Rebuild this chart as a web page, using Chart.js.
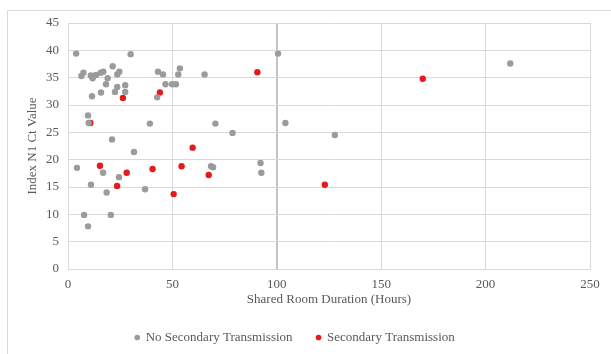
<!DOCTYPE html>
<html>
<head>
<meta charset="utf-8">
<script src="https://cdn.jsdelivr.net/npm/chart.js@4/dist/chart.umd.min.js"></script>
<style>
  html, body { margin: 0; padding: 0; background: #fff; }
  #wrap { width: 611px; height: 354px; position: relative; }
</style>
</head>
<body>
<div id="wrap"><canvas id="c" width="611" height="354"></canvas></div>
<script>
// Shared room duration (hours) and Index N1 Ct values
const noTransX = [3.9, 30.0, 7.4, 6.4, 10.9, 12.1, 11.8, 13.4, 15.7, 16.9, 21.4, 24.6, 23.6, 19.0, 18.2, 27.4, 23.6, 22.5, 27.4, 15.8, 11.5,
  43.1, 45.5, 53.6, 52.8, 46.7, 49.9, 51.7, 42.7,
  65.4, 100.6, 70.6, 104.1, 78.8, 127.8, 69.5, 68.5, 92.2, 92.6, 211.8,
  9.6, 9.9, 21.1, 31.6, 4.3, 16.8, 24.4, 11.0, 39.2, 36.9, 18.5, 7.7, 20.5, 9.6];
const noTransY = [39.4, 39.3, 35.9, 35.3, 35.4, 35.2, 34.9, 35.5, 35.9, 36.1, 37.1, 36.1, 35.6, 34.9, 33.8, 33.6, 33.3, 32.4, 32.4, 32.3, 31.6,
  36.1, 35.6, 36.7, 35.6, 33.8, 33.8, 33.8, 31.4,
  35.6, 39.4, 26.6, 26.7, 24.9, 24.5, 18.6, 18.8, 19.4, 17.6, 37.6,
  28.1, 26.7, 23.7, 21.4, 18.5, 17.6, 16.8, 15.4, 26.6, 14.6, 14.0, 9.9, 9.9, 7.8];
const transX = [26.3, 44.0, 10.7, 15.3, 28.1, 23.5, 40.5, 54.4, 59.7, 50.6, 67.4, 90.7, 123.0, 169.9];
const transY = [31.3, 32.3, 26.7, 18.9, 17.6, 15.2, 18.3, 18.8, 22.2, 13.7, 17.2, 36.0, 15.4, 34.8];
const seriesNames = ['No Secondary Transmission', 'Secondary Transmission'];
const xTitle = 'Shared Room Duration (Hours)';
const yTitle = 'Index N1 Ct Value';

const toPts = (xs, ys) => xs.map((x, i) => ({ x: x, y: ys[i] }));
const FONT = { family: '"Liberation Serif", "Times New Roman", serif', size: 13 };
const TXT = '#595959';

const frame = {
  id: 'frame',
  beforeDraw(chart) {
    const ctx = chart.ctx;
    ctx.save();
    ctx.strokeStyle = '#d9d9d9';
    ctx.lineWidth = 1;
    ctx.strokeRect(7.5, 10.5, 620, 360);
    ctx.restore();
  }
};

new Chart(document.getElementById('c'), {
  type: 'scatter',
  data: {
    datasets: [
      { label: seriesNames[0], data: toPts(noTransX, noTransY), backgroundColor: '#9b9b9b', borderColor: '#9b9b9b', pointRadius: 3.2, pointHoverRadius: 3.2, borderWidth: 0 },
      { label: seriesNames[1], data: toPts(transX, transY), backgroundColor: '#e8191c', borderColor: '#e8191c', pointRadius: 3.2, pointHoverRadius: 3.2, borderWidth: 0 }
    ]
  },
  options: {
    responsive: false,
    animation: false,
    devicePixelRatio: 1,
    layout: { padding: { left: 0, top: 23, right: 21, bottom: 0 } },
    plugins: {
      tooltip: { enabled: false },
      legend: {
        position: 'bottom',
        labels: { usePointStyle: true, pointStyle: 'circle', boxWidth: 4, boxHeight: 4, padding: 24, color: TXT, font: FONT }
      }
    },
    scales: {
      x: {
        type: 'linear', min: 0, max: 250,
        ticks: { stepSize: 50, color: TXT, font: FONT, padding: 8 },
        grid: { color: (c) => (c.tick && c.tick.value === 100) ? '#c4c4c4' : '#d9d9d9', lineWidth: (c) => (c.tick && c.tick.value === 100) ? 2 : 1, drawTicks: false },
        border: { color: '#d9d9d9' },
        title: { display: true, text: xTitle, color: TXT, font: FONT, padding: { top: 0, bottom: 0 } },
        afterFit(s) { s.height = 38; }
      },
      y: {
        type: 'linear', min: 0, max: 45,
        ticks: { stepSize: 5, color: TXT, font: FONT, padding: 9 },
        grid: { color: '#d9d9d9', drawTicks: false },
        border: { color: '#d9d9d9' },
        title: { display: true, text: yTitle, color: TXT, font: FONT, padding: { top: 25, bottom: 0 } },
        afterFit(s) { s.width = 68; }
      }
    }
  },
  plugins: [frame]
});
</script>
</body>
</html>
